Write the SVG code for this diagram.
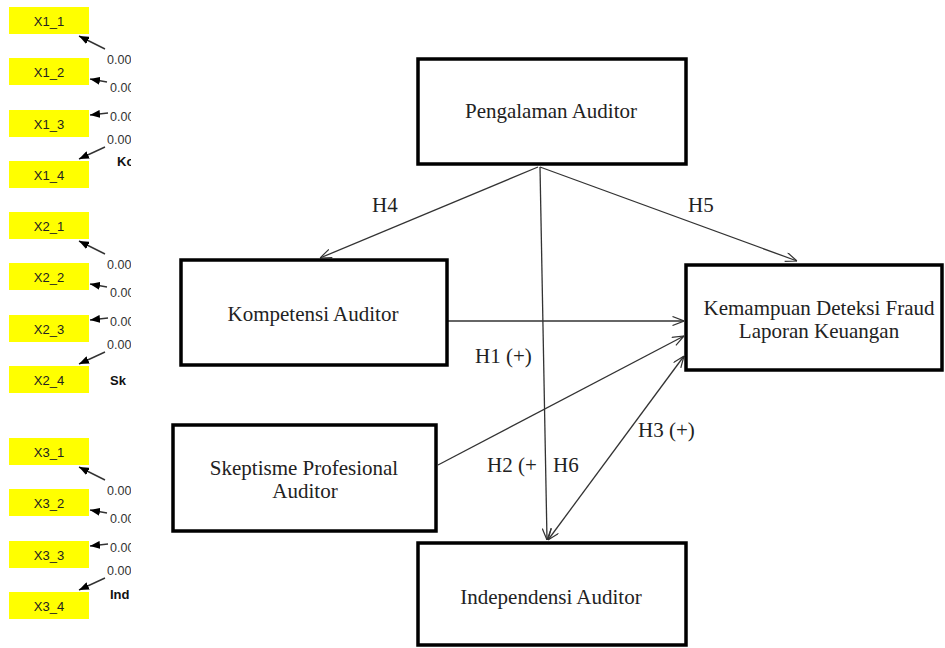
<svg xmlns="http://www.w3.org/2000/svg" width="945" height="648" viewBox="0 0 945 648">
<style>
.ind{fill:#ffff00;stroke:none}
.it{font-family:"Liberation Sans",Arial,sans-serif;font-size:13px;fill:#222;text-anchor:middle}
.num{font-family:"Liberation Sans",Arial,sans-serif;font-size:12.5px;fill:#333}
.lv{font-family:"Liberation Sans",Arial,sans-serif;font-size:13px;font-weight:bold;fill:#111}
.la{stroke:#333;stroke-width:1.4;fill:none}
.box{fill:#fff;stroke:#000;stroke-width:3.5}
.bt{font-family:"Liberation Serif","Times New Roman",serif;font-size:21px;fill:#222;text-anchor:middle}
.hl{font-family:"Liberation Serif","Times New Roman",serif;font-size:21px;fill:#222}
.cn{stroke:#333;stroke-width:1.3;fill:none}
</style>
<defs>
<clipPath id="clipL"><rect x="0" y="0" width="131" height="648"/></clipPath>
<marker id="fa" viewBox="0 0 10 8" refX="10" refY="4" markerWidth="10" markerHeight="8" markerUnits="userSpaceOnUse" orient="auto"><path d="M0,0 L10,4 L0,8 Z" fill="#000"/></marker>
<marker id="v" viewBox="0 0 12 10" refX="12" refY="5" markerWidth="12" markerHeight="10" markerUnits="userSpaceOnUse" orient="auto-start-reverse"><path d="M0.5,0.5 L12,5 L0.5,9.5" fill="none" stroke="#333" stroke-width="1.2"/></marker>
<g id="ind4">
<rect class="ind" x="9" y="0" width="80" height="27"/>
<rect class="ind" x="9" y="51" width="80" height="27"/>
<rect class="ind" x="9" y="103" width="80" height="27"/>
<rect class="ind" x="9" y="154" width="80" height="27"/>
<line class="la" x1="105" y1="42" x2="79" y2="29" marker-end="url(#fa)"/>
<line class="la" x1="107" y1="75" x2="90" y2="72" marker-end="url(#fa)"/>
<line class="la" x1="108" y1="106" x2="90" y2="108" marker-end="url(#fa)"/>
<line class="la" x1="105" y1="140" x2="79" y2="152" marker-end="url(#fa)"/>
</g>
</defs>
<rect width="945" height="648" fill="#fff"/>
<g id="left" clip-path="url(#clipL)">
<g id="group-x1" transform="translate(0,7)">
<use href="#ind4"/>
<text class="it" x="49" y="18.5">X1_1</text>
<text class="it" x="49" y="69.5">X1_2</text>
<text class="it" x="49" y="121.5">X1_3</text>
<text class="it" x="49" y="172.5">X1_4</text>
<text class="num" x="107" y="56.5">0.00</text>
<text class="num" x="110" y="85">0.00</text>
<text class="num" x="110" y="114">0.00</text>
<text class="num" x="107" y="136.5">0.00</text>
<text class="lv" x="117" y="158.5">Ko</text>
</g>
<g id="group-x2" transform="translate(0,212)">
<use href="#ind4"/>
<text class="it" x="49" y="18.5">X2_1</text>
<text class="it" x="49" y="69.5">X2_2</text>
<text class="it" x="49" y="121.5">X2_3</text>
<text class="it" x="49" y="172.5">X2_4</text>
<text class="num" x="107" y="56.5">0.00</text>
<text class="num" x="110" y="85">0.00</text>
<text class="num" x="110" y="114">0.00</text>
<text class="num" x="107" y="136.5">0.00</text>
<text class="lv" x="110" y="172.5">Sk</text>
</g>
<g id="group-x3" transform="translate(0,438)">
<use href="#ind4"/>
<text class="it" x="49" y="18.5">X3_1</text>
<text class="it" x="49" y="69.5">X3_2</text>
<text class="it" x="49" y="121.5">X3_3</text>
<text class="it" x="49" y="172.5">X3_4</text>
<text class="num" x="107" y="56.5">0.00</text>
<text class="num" x="110" y="85">0.00</text>
<text class="num" x="110" y="114">0.00</text>
<text class="num" x="107" y="136.5">0.00</text>
<text class="lv" x="110" y="160.5">Ind</text>
</g>
</g>
<g id="connectors">
<line class="cn" x1="538" y1="167" x2="320" y2="258" marker-end="url(#v)"/>
<line class="cn" x1="540" y1="167" x2="797" y2="261" marker-end="url(#v)"/>
<line class="cn" x1="540" y1="167" x2="547" y2="540" marker-end="url(#v)"/>
<line class="cn" x1="448" y1="321" x2="684" y2="321" marker-end="url(#v)"/>
<line class="cn" x1="438" y1="465" x2="684" y2="336" marker-end="url(#v)"/>
<line class="cn" x1="548" y1="540" x2="684" y2="356" marker-start="url(#v)" marker-end="url(#v)"/>
<text class="hl" x="372" y="212">H4</text>
<text class="hl" x="688" y="212">H5</text>
<text class="hl" x="475" y="363">H1 (+)</text>
<text class="hl" x="638" y="437">H3 (+)</text>
<text class="hl" x="487" y="472">H2 (+</text>
<text class="hl" x="553" y="472">H6</text>
</g>
<g id="pengalaman">
<rect class="box" x="418" y="59" width="268" height="105"/>
<text class="bt" x="551" y="118">Pengalaman Auditor</text>
</g>
<g id="kompetensi">
<rect class="box" x="181" y="260" width="266" height="105"/>
<text class="bt" x="313" y="321">Kompetensi Auditor</text>
</g>
<g id="kemampuan">
<rect class="box" x="686" y="265" width="256" height="105"/>
<text class="bt" x="819" y="315">Kemampuan Deteksi Fraud</text>
<text class="bt" x="819" y="338">Laporan Keuangan</text>
</g>
<g id="skeptisme">
<rect class="box" x="173" y="425" width="263" height="106"/>
<text class="bt" x="304" y="475">Skeptisme Profesional</text>
<text class="bt" x="305" y="498">Auditor</text>
</g>
<g id="independensi">
<rect class="box" x="418" y="543" width="268" height="102"/>
<text class="bt" x="551" y="604">Independensi Auditor</text>
</g>
</svg>
